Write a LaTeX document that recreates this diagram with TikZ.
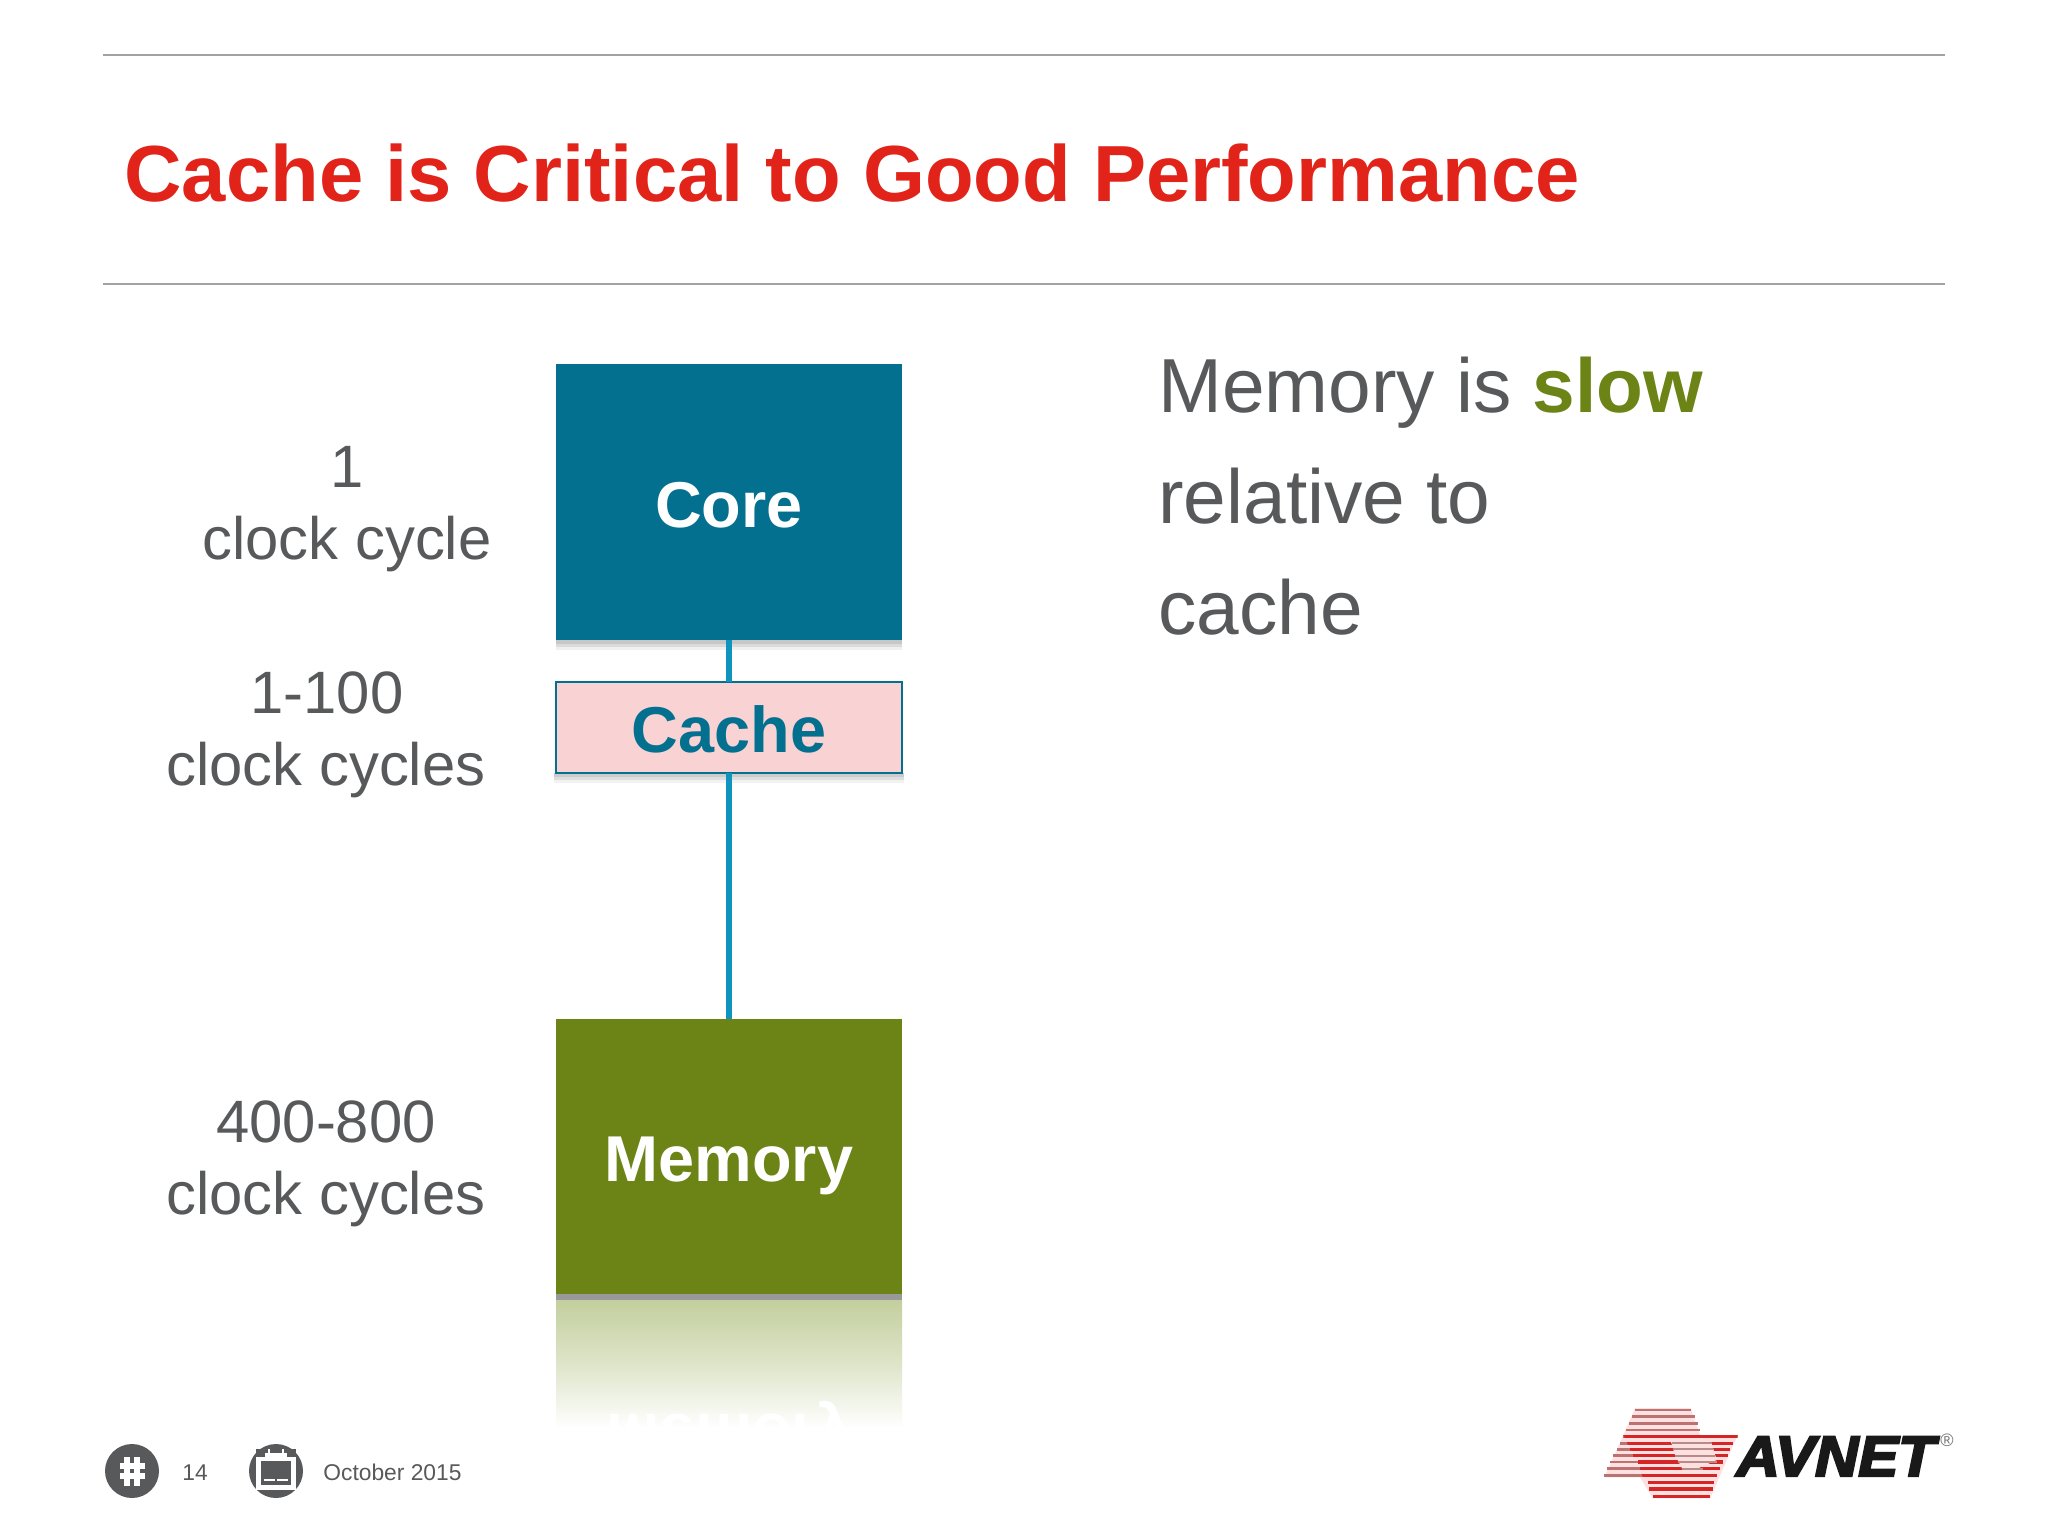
\documentclass[tikz,border=0pt]{standalone}
\usepackage{fontspec}
\setmainfont{Liberation Sans}
\newfontfamily\logofont{Liberation Sans}[BoldItalicFeatures={FakeBold=4}]
\definecolor{greytext}{HTML}{58595B}
\definecolor{titlered}{HTML}{E2231A}
\definecolor{teal}{HTML}{04708F}
\definecolor{linkblue}{HTML}{0F93BF}
\definecolor{leaf}{HTML}{6B8415}
\definecolor{pinkfill}{HTML}{F9D2D3}
\definecolor{rule}{HTML}{A3A3A3}
\definecolor{icon}{HTML}{58595B}
\definecolor{mirrortop}{HTML}{C3CF9E}
\tikzset{
  px/.style={x=0.5pt,y=-0.5pt},
  hrule/.style={draw=rule,line width=1pt},
  blockbox/.style={minimum width=173pt,inner sep=0pt,outer sep=0pt,align=center,
    text height=25.3pt,text depth=0pt,font=\fontsize{32.4}{32.4}\selectfont\bfseries},
  softshadow/.style={fill=black,fill opacity=#1},
  link/.style={draw=linkblue,line width=3pt},
  label/.style={anchor=base,inner sep=0pt,text=greytext,font=\fontsize{29.9}{29.9}\selectfont},
  bodytext/.style={anchor=base west,inner sep=0pt,text=greytext,font=\fontsize{38.3}{38.3}\selectfont},
  foot/.style={anchor=base west,inner sep=0pt,text=greytext,font=\fontsize{11.4}{11.4}\selectfont},
}
\begin{document}
\begin{tikzpicture}[px]
\useasboundingbox (0,0) rectangle (2048,1536);
\fill[white] (0,0) rectangle (2048,1536);

% rules
\coordinate (r1a) at (103,55); \coordinate (r1b) at (1945,55);
\coordinate (r2a) at (103,284); \coordinate (r2b) at (1945,284);
\draw[hrule] (r1a) -- (r1b);
\draw[hrule] (r2a) -- (r2b);

% title
\node[anchor=base west,inner sep=0pt,text=titlered,font=\fontsize{39.8}{39.8}\selectfont\bfseries]
  (title) at (124,201) {Cache is Critical to Good Performance};

% reflection under memory
\shade[top color=mirrortop,bottom color=white,middle color=white!45!mirrortop] (556,1300) rectangle (902,1428);
\node[anchor=base,inner sep=0pt,yscale=-1,text=white,font=\fontsize{32}{32}\selectfont\bfseries]
  (mirror) at (729,1414) {Memory};

% shadows
\foreach \a/\b/\o in {640/644/.22,644/647/.14,647/650/.06}{
  \fill[softshadow=\o] (556,\a) rectangle (902,\b);
}
\foreach \a/\b/\o in {773/777/.2,777/780/.13,780/783/.05}{
  \fill[softshadow=\o] (554,\a) rectangle (904,\b);
}
\fill[softshadow=.4] (556,1294) rectangle (902,1300);

% blocks
\node[blockbox,minimum height=138pt,fill=teal,text=white] (core) at (729,502) {Core};
\node[blockbox,minimum height=45.5pt,fill=pinkfill,draw=teal,line width=1.2pt,text=teal] (cache) at (729,727.5) {Cache};
\node[blockbox,minimum height=137.5pt,fill=leaf,text=white] (memory) at (729,1156.5) {Memory};

% connectors
\draw[link] (core.south) -- (cache.north);
\draw[link] (cache.south) -- (memory.north);

% latency labels
\node[label] (l1a) at (347,487) {1};
\node[label] (l1b) at (347,559) {clock cycle};
\node[label] (l2a) at (327,713) {1-100};
\node[label] (l2b) at (326,785) {clock cycles};
\node[label] (l3a) at (326,1142) {400-800};
\node[label] (l3b) at (326,1214) {clock cycles};

% body
\node[bodytext] (b1) at (1158,412) {Memory is {\bfseries\color{leaf}slow}};
\node[bodytext] (b2) at (1158,523) {relative to};
\node[bodytext] (b3) at (1158,634) {cache};

% footer
\fill[icon] (132,1471) circle (27);
\foreach \dx in {-5,5}{ \draw[white,line width=2.6pt] (132+\dx,1457) -- (132+\dx,1486); }
\foreach \dy in {-5,5}{ \draw[white,line width=2.6pt] (120,1471+\dy) -- (145,1471+\dy); }
\node[foot] (pg) at (182,1480) {14};
\fill[icon] (276,1471) circle (27);
\fill[white] (256,1453) rectangle (296,1490);
\fill[icon] (261,1461) rectangle (291,1485);
\fill[white] (264,1479) rectangle (275,1481);
\fill[white] (277,1479) rectangle (288,1481);
\fill[icon] (256,1449) rectangle (265,1457);
\fill[icon] (287,1449) rectangle (296,1457);
\fill[white] (268,1449) rectangle (270,1458);
\fill[white] (282,1449) rectangle (284,1458);
\node[foot] (dt) at (323,1480) {October 2015};

% logo
\begin{scope}[shift={(1560,1380)},x=0.1667pt,y=-0.1667pt]
  \fill[red!12] (225,84) -- (392,84) -- (420,165) -- (533,165) -- (450,355) -- (278,355) -- (240,292) -- (133,292) -- (190,165) -- cycle;
  \foreach \y/\a/\b in {90/225/392,110/215/405,130/207/413,150/197/420,170/190/533,190/180/520,208/170/510,227/160/503,246/150/490,266/142/480,287/133/470,307/265/462,327/268/458,349/278/450}{
    \fill[red!50!black!55] (\a,\y-4) rectangle (\b,\y+4);
  }
  \begin{scope}
    \clip (190,165) -- (533,165) -- (450,355) -- (278,355) -- cycle;
    \foreach \y/\a/\b in {170/190/533,190/200/520,208/210/510,227/220/503,246/235/490,266/240/480,287/240/470,307/265/462,327/268/458,349/278/450}{
      \fill[red!80!black!85] (\a,\y-5) rectangle (\b,\y+5);
    }
    \fill[red!12] (330,176) -- (450,176) -- (470,240) -- (375,282) -- (345,225) -- cycle;
    \foreach \y/\a/\b in {190/335/452,208/340/458,227/345/465,246/355/470,266/365/430}{
      \fill[red!35!black!45] (\a,\y-3) rectangle (\b,\y+3);
    }
  \end{scope}
\end{scope}
\node[anchor=base west,inner sep=0pt,xscale=1.05,text=black!90,font=\logofont\fontsize{28.5}{28.5}\selectfont\bfseries\itshape] (logo) at (1736,1476) {AVNET};
\node[inner sep=0pt,text=black!55,font=\fontsize{9}{9}\selectfont] (reg) at (1947,1440) {®};
\end{tikzpicture}
\end{document}
